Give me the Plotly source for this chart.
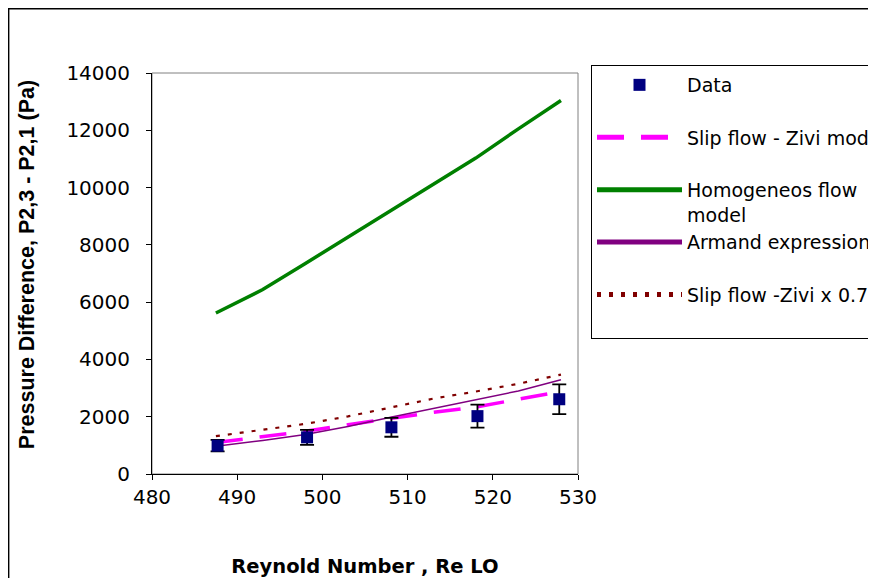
import plotly.graph_objects as go

# ---- data ----
re_data = [487.7, 498.2, 508.1, 518.2, 527.8]
dp_data = [990, 1280, 1630, 2020, 2610]
dp_err = [200, 260, 330, 400, 520]

re_model = [487.5, 493, 498, 503, 508, 513, 518, 523, 528]
dp_homog = [5620, 6440, 7350, 8270, 9160, 10100, 11030, 12050, 13040]
dp_zivi = [1100, 1300, 1490, 1720, 1950, 2150, 2340, 2600, 2880]
dp_armand = [970, 1170, 1380, 1660, 1980, 2280, 2600, 2900, 3290]
dp_zivi07 = [1320, 1550, 1750, 2010, 2310, 2630, 2880, 3150, 3470]

x_ticks = [480, 490, 500, 510, 520, 530]
y_ticks = [0, 2000, 4000, 6000, 8000, 10000, 12000, 14000]

names = ["Data", "Slip flow - Zivi model", "Homogeneos flow<br>model",
         "Armand expression", "Slip flow -Zivi x 0.7"]

fig = go.Figure()
fig.add_trace(go.Scatter(x=re_model, y=dp_zivi, mode="lines", name=names[1] + "<br> ",
                         line=dict(color="#FF00FF", width=3.5, dash="27px,17px"), legendrank=2))
fig.add_trace(go.Scatter(x=re_model, y=dp_homog, mode="lines", name=names[2],
                         line=dict(color="#008000", width=3.5), legendrank=3))
fig.add_trace(go.Scatter(x=re_model, y=dp_armand, mode="lines", name=names[3] + "<br> ",
                         line=dict(color="#800080", width=1.5), legendrank=4))
fig.add_trace(go.Scatter(x=re_model, y=dp_zivi07, mode="lines", name=names[4] + "<br> ",
                         line=dict(color="#800000", width=2.2, dash="4px,8px"), legendrank=5))
fig.add_trace(go.Scatter(x=re_data, y=dp_data, mode="markers", name=names[0] + "<br> ",
                         marker=dict(symbol="square", size=12, color="#000080", line=dict(width=0)),
                         error_y=dict(type="data", array=dp_err, color="black", thickness=1.8, width=7),
                         legendrank=1))

# figure sits at (8, 8) in the page (body margin)
W, H = 868, 570
L, R, T, B = 144, 298, 65, 104
pw, ph = W - L - R, H - T - B

fig.update_layout(
    width=W, height=H,
    margin=dict(l=L, r=R, t=T, b=B, autoexpand=False),
    paper_bgcolor="white", plot_bgcolor="white",
    font=dict(family="DejaVu Sans", size=19, color="black"),
    showlegend=True,
    legend=dict(
        x=(583 - L) / pw, y=(T + ph - 57) / ph, xanchor="left", yanchor="top",
        bgcolor="white", bordercolor="black", borderwidth=1,
        font=dict(family="DejaVu Sans", size=19, color="black"),
        valign="top", itemwidth=85, itemsizing="constant",
    ),
    xaxis=dict(
        range=[480, 530], tickvals=x_ticks, ticktext=[str(v) for v in x_ticks],
        showgrid=False, zeroline=False, showline=True, linecolor="black", linewidth=1,
        ticks="outside", ticklen=5, tickcolor="black", tickwidth=1,
        tickfont=dict(family="DejaVu Sans", size=20), ticklabelstandoff=0,
        title=dict(text="<b>Reynold Number , Re LO</b>",
                   font=dict(family="DejaVu Sans", size=19.5), standoff=52),
    ),
    yaxis=dict(
        range=[0, 14000], tickvals=y_ticks, ticktext=[str(v) for v in y_ticks],
        showgrid=False, zeroline=False, showline=True, linecolor="black", linewidth=1,
        ticks="outside", ticklen=5, tickcolor="black", tickwidth=1,
        tickfont=dict(family="DejaVu Sans", size=20), ticklabelstandoff=12,
        title=dict(text="<b>&nbsp;&nbsp;&nbsp;Pressure Difference, P2,3 - P2,1 (Pa)</b>",
                   font=dict(family="Liberation Sans", size=21.5), standoff=25),
    ),
    shapes=[
        dict(type="rect", xref="paper", yref="paper", x0=0, x1=1, y0=0, y1=1,
             line=dict(color="#808080", width=1), layer="below"),
        dict(type="rect", xref="paper", yref="paper",
             x0=(0.7 - L) / pw, x1=(W + 40 - L) / pw, y0=-(B + 40) / ph, y1=(T + ph - 0.7) / ph,
             line=dict(color="black", width=1.4), layer="below"),
    ],
)

fig.write_html("out.html")
